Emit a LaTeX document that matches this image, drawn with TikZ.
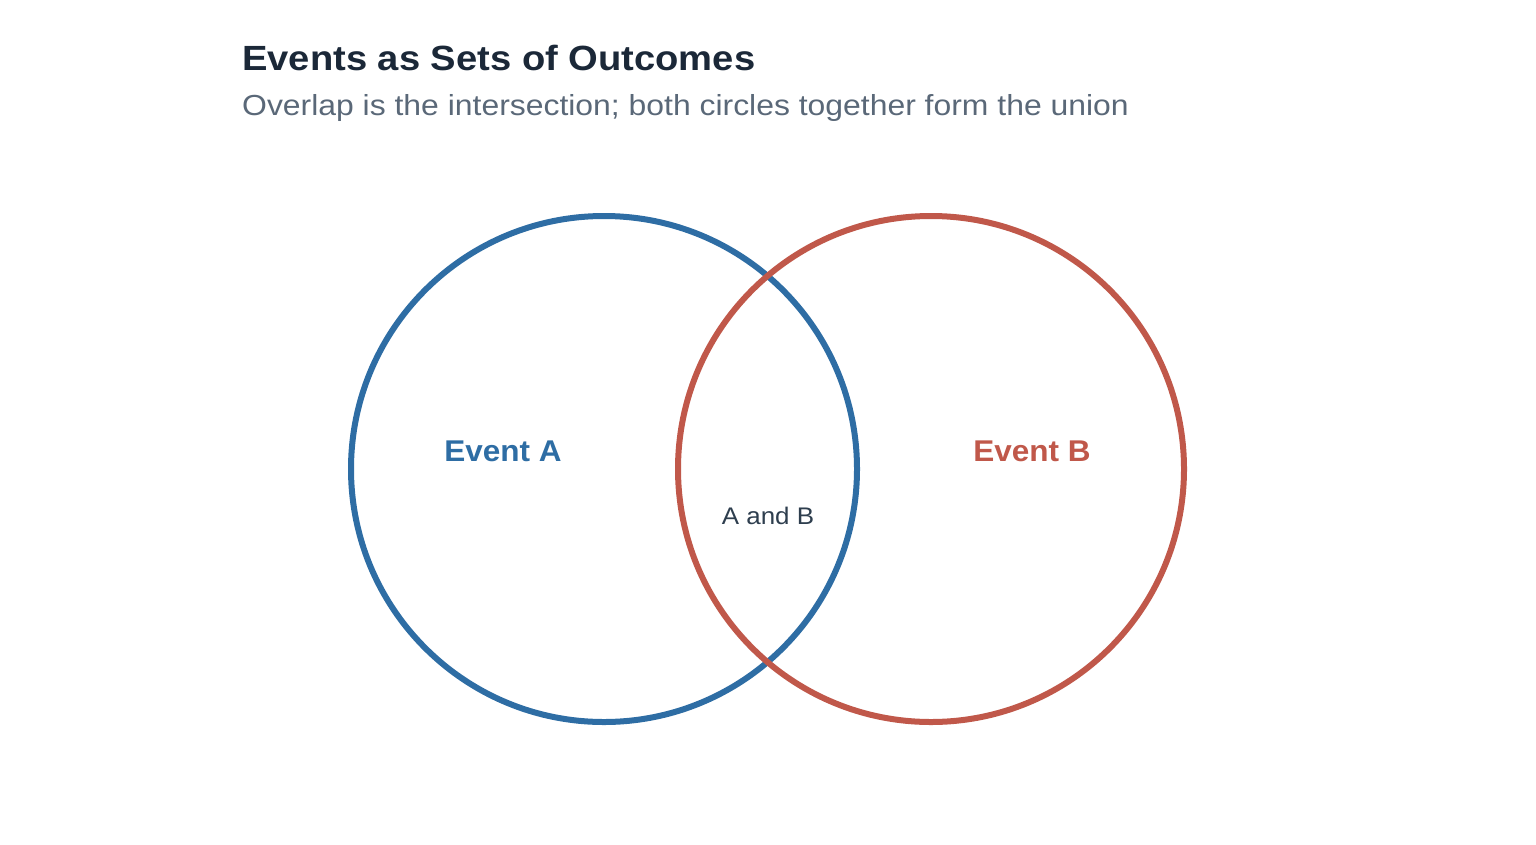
\documentclass[tikz,border=0pt]{standalone}
\usepackage{fontspec}
\setmainfont{Liberation Sans}
\newfontfamily\wideA[FakeStretch=1.09]{Liberation Sans}
\newfontfamily\wideB[FakeStretch=1.10]{Liberation Sans}
\newfontfamily\wideC[FakeStretch=1.05]{Liberation Sans}
\newfontfamily\wideD[FakeStretch=1.08]{Liberation Sans}
\definecolor{blueA}{HTML}{2E6DA4}
\definecolor{redB}{HTML}{C0584A}
\definecolor{titlec}{HTML}{1B2838}
\definecolor{subc}{HTML}{5A6878}
\definecolor{lblc}{HTML}{2E3E4E}
\begin{document}
\begin{tikzpicture}[x=1pt,y=-1pt,
  setc/.style={line width=6pt},
  txt/.style={inner sep=0pt}]
\useasboundingbox (0,0) rectangle (1536,844);
\node[txt,anchor=base west,font=\wideA\fontsize{35}{40}\selectfont\bfseries,text=titlec] (title) at (242,70) {Events as Sets of Outcomes};
\node[txt,anchor=base west,font=\wideB\fontsize{29}{34}\selectfont,text=subc] (sub) at (242,115) {Overlap is the intersection; both circles together form the union};
\node[setc,draw=blueA,circle,minimum size=506pt,inner sep=0pt] (A) at (604,469) {};
\node[setc,draw=redB,circle,minimum size=506pt,inner sep=0pt] (B) at (931,469) {};
\node[txt,font=\wideC\fontsize{30}{36}\selectfont\bfseries,text=blueA] (la) at (503,451) {Event A};
\node[txt,font=\wideC\fontsize{30}{36}\selectfont\bfseries,text=redB] (lb) at (1032,451) {Event B};
\node[txt,font=\wideD\fontsize{24}{28}\selectfont,text=lblc] (ab) at (768,516) {A and B};
\end{tikzpicture}
\end{document}
